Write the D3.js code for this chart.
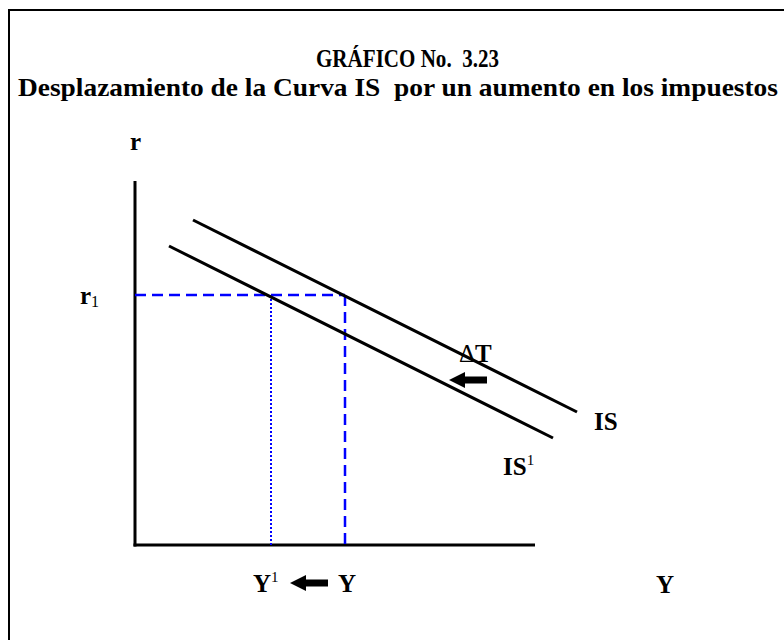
<!DOCTYPE html>
<html>
<head>
<meta charset="utf-8">
<script src="https://cdn.jsdelivr.net/npm/d3@7"></script>
<style>
  html, body { margin: 0; padding: 0; background: #fff; }
  svg { display: block; }
  text { font-family: "Liberation Serif", "Times New Roman", Times, serif; fill: #000; }
</style>
</head>
<body>
<svg id="chart" width="784" height="640"></svg>
<script>
// IS curves (output Y, interest rate r), each drawn as a straight segment
const isCurve  = [{ Y: 14.5, r: 81.25 }, { Y: 110.5, r: 33.25 }];
const is1Curve = [{ Y: 8.5,  r: 74.75 }, { Y: 104.5, r: 26.75 }];

// Equilibrium reference values
const r1 = 62.5;   // interest rate r1
const Y0 = 52.5;   // original output Y
const Y1 = 34;     // output after the tax increase Y1

// Axis extents
const Ymax = 100;
const rMax = 91;

const titleLines = ["GRÁFICO No.\u00A0 3.23", "Desplazamiento de la Curva IS\u00A0 por un aumento en los impuestos"];

const svg = d3.select("#chart");

const x = d3.scaleLinear().domain([0, Ymax]).range([135, 535]);
const y = d3.scaleLinear().domain([0, rMax]).range([545, 181]);

// outer frame
svg.append("rect")
  .attr("x", 9).attr("y", 10)
  .attr("width", 800).attr("height", 660)
  .attr("fill", "none").attr("stroke", "#000").attr("stroke-width", 2);

// title
const title = svg.append("g").attr("font-weight", "bold");
title.append("text")
  .attr("x", 316).attr("y", 67)
  .attr("font-size", 25)
  .attr("textLength", 183).attr("lengthAdjust", "spacingAndGlyphs")
  .text(titleLines[0]);
title.append("text")
  .attr("x", 18).attr("y", 96)
  .attr("font-size", 25)
  .attr("textLength", 760).attr("lengthAdjust", "spacingAndGlyphs")
  .text(titleLines[1]);

// axes
svg.append("line")
  .attr("x1", x(0)).attr("y1", y(rMax)).attr("x2", x(0)).attr("y2", y(0) + 1.5)
  .attr("stroke", "#000").attr("stroke-width", 3);
svg.append("line")
  .attr("x1", x(0) - 1.5).attr("y1", y(0)).attr("x2", x(Ymax)).attr("y2", y(0))
  .attr("stroke", "#000").attr("stroke-width", 3);

// guide lines
svg.append("line")
  .attr("x1", x(0)).attr("y1", y(r1)).attr("x2", x(Y0)).attr("y2", y(r1))
  .attr("stroke", "#0000ff").attr("stroke-width", 2.5).attr("stroke-dasharray", "11,6");
svg.append("line")
  .attr("x1", x(Y0)).attr("y1", y(r1)).attr("x2", x(Y0)).attr("y2", y(0))
  .attr("stroke", "#0000ff").attr("stroke-width", 2.5).attr("stroke-dasharray", "11,6");
svg.append("line")
  .attr("x1", x(Y1)).attr("y1", y(r1)).attr("x2", x(Y1)).attr("y2", y(0))
  .attr("stroke", "#0000ff").attr("stroke-width", 2).attr("stroke-dasharray", "2,2");

// IS curves
const line = d3.line().x(d => x(d.Y)).y(d => y(d.r));
[isCurve, is1Curve].forEach(c => {
  svg.append("path").datum(c)
    .attr("d", line)
    .attr("fill", "none").attr("stroke", "#000").attr("stroke-width", 3);
});

// left-pointing block arrow
function arrow(xTip, xTail, yc) {
  const head = 16, halfHead = 8, halfShaft = 3.5;
  const p = d3.path();
  p.moveTo(xTip, yc);
  p.lineTo(xTip + head, yc - halfHead);
  p.lineTo(xTip + head, yc - halfShaft);
  p.lineTo(xTail, yc - halfShaft);
  p.lineTo(xTail, yc + halfShaft);
  p.lineTo(xTip + head, yc + halfShaft);
  p.lineTo(xTip + head, yc + halfHead);
  p.closePath();
  svg.append("path").attr("d", p.toString()).attr("fill", "#000");
}
arrow(x(78.5), x(88), y(41.25));
arrow(x(38.75), x(48.25), 583);

// labels
const lab = svg.append("g").attr("font-size", 25).attr("font-weight", "bold");

lab.append("text").attr("x", 130).attr("y", 150).text("r");

const r1Label = lab.append("text").attr("x", 80).attr("y", y(r1) + 9);
r1Label.append("tspan").text("r");
r1Label.append("tspan").attr("font-weight", "normal").attr("font-size", 16).attr("dy", 3).text("1");

const dT = lab.append("text").attr("x", 459).attr("y", 362);
dT.append("tspan").attr("font-weight", "normal").text("Δ");
dT.append("tspan").text("T");

lab.append("text").attr("x", 594).attr("y", 430).text("IS");
const is1 = lab.append("text").attr("x", 503).attr("y", 475);
is1.append("tspan").text("IS");
is1.append("tspan").attr("font-weight", "normal").attr("font-size", 15).attr("dy", -10).text("1");

const y1Label = lab.append("text").attr("x", 253).attr("y", 592);
y1Label.append("tspan").text("Y");
y1Label.append("tspan").attr("font-weight", "normal").attr("font-size", 15).attr("dy", -10).text("1");

lab.append("text").attr("x", 338).attr("y", 592).text("Y");
lab.append("text").attr("x", 656).attr("y", 593).text("Y");
</script>
</body>
</html>
